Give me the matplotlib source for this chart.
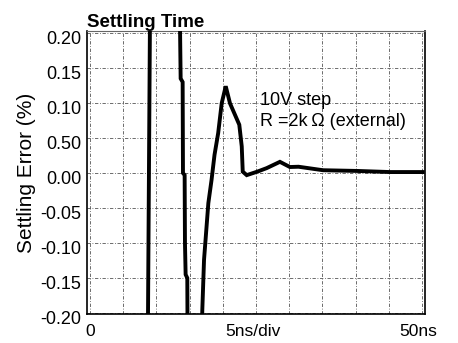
import numpy as np
import matplotlib
matplotlib.use("Agg")
import matplotlib.pyplot as plt
from matplotlib.transforms import ScaledTranslation

plt.rcParams['font.family'] = ['Liberation Sans', 'DejaVu Sans']

# settling trace (time in ns, error in %)
# values beyond +-0.2 are off screen, they only make the trace run off the edge
t_ns = [8.70, 9.05, 13.50, 13.65, 13.95, 14.00, 14.25, 14.30, 14.40, 14.65, 14.70,
        16.80, 16.91, 17.17, 17.82, 18.30, 18.75, 19.30, 19.83, 20.44, 21.08,
        22.48, 22.85, 23.00, 23.60, 25.20, 26.60, 28.60, 30.10, 31.40, 35.10,
        40.20, 45.20, 50.10]
err_pct = [-0.25, 0.25, 0.25, 0.135, 0.130, 0.000, -0.003, -0.100, -0.145, -0.150, -0.25,
           -0.25, -0.196, -0.124, -0.043, -0.010, 0.026, 0.057, 0.0996, 0.124, 0.0996,
           0.069, 0.038, 0.002, -0.003, 0.002, 0.007, 0.016, 0.0086, 0.009, 0.004,
           0.003, 0.0014, 0.0014]

grid_x = np.arange(0, 51, 5)
grid_y = np.arange(-0.20, 0.201, 0.05)
ytick_labels = ['-0.20', '-0.15', '-0.10', '-0.05', '0.00', '0.50', '0.10', '0.15', '0.20']
xtick_pos = [0, 24.5, 49.4]
xtick_labels = ['0', '5ns/div', '50ns']

fig = plt.figure(figsize=(4.58, 3.43), dpi=100)
ax = fig.add_axes([0.190, 0.0845, 0.738, 0.8251])

for gx in grid_x:
    ax.axvline(gx, color='#555555', lw=0.6, ls=(0, (4, 2, 1, 2)), zorder=1)
for gy in grid_y:
    ax.axhline(gy, color='#555555', lw=0.6, ls=(0, (4, 2, 1, 2)), zorder=1)

ax.plot(t_ns, err_pct, color='black', lw=2.8, solid_joinstyle='miter', zorder=3)

ax.set_xlim(-0.45, 50.45)
ax.set_ylim(-0.2014, 0.2029)

ax.set_yticks(grid_y)
ax.set_yticklabels(ytick_labels, fontsize=13)
ax.set_xticks(xtick_pos)
ax.set_xticklabels(xtick_labels, fontsize=12.5)
ax.tick_params(length=0)
ax.tick_params(axis='y', pad=4)
ax.tick_params(axis='x', pad=7)
for lab in ax.get_yticklabels():
    lab.set_transform(lab.get_transform() + ScaledTranslation(0, -4 / 100, fig.dpi_scale_trans))

ax.set_ylabel('Settling Error (%)', fontsize=15, labelpad=3)

for s in ['left', 'bottom', 'right']:
    ax.spines[s].set_linewidth(1.2)
    ax.spines[s].set_color('black')
ax.spines['top'].set_linestyle((0, (1, 1)))
ax.spines['top'].set_color('#666666')
ax.spines['top'].set_linewidth(0.8)

fig.text(87 / 458, 1 - 27 / 343, 'Settling Time', fontsize=13.5, fontweight='bold',
         ha='left', va='baseline')

ax.text(25.6, 0.103, '10V step', fontsize=13, va='center', ha='left')
ax.text(25.6, 0.074, 'R =2k\u2009\u03a9 (external)', fontsize=13, va='center', ha='left')

fig.savefig('out.png', dpi=100)
